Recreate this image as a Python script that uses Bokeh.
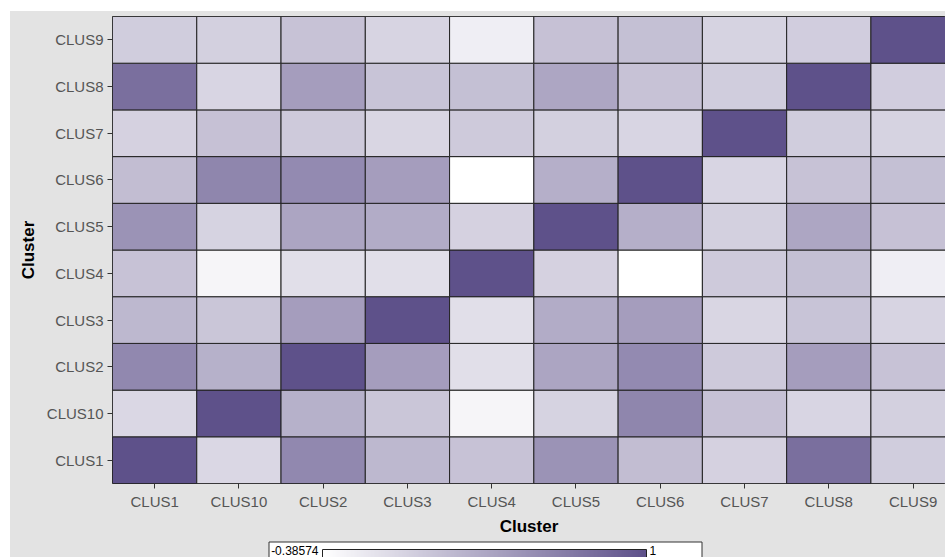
import numpy as np
from bokeh.plotting import figure
from bokeh.models import (ColumnDataSource, LinearColorMapper, ColorBar, FixedTicker,
                          Range1d, Label)
from bokeh.layouts import column
from bokeh.transform import transform
from bokeh.embed import file_html
from bokeh.resources import INLINE

# ---------------- data ----------------
clusters = ["CLUS1", "CLUS10", "CLUS2", "CLUS3", "CLUS4",
            "CLUS5", "CLUS6", "CLUS7", "CLUS8", "CLUS9"]

# correlation of each cluster (row) with the clusters above (columns, same order)
clus1 = [1.00, -0.07, 0.56, 0.18, 0.10, 0.48, 0.14, -0.02, 0.76, 0.02]
clus10 = [-0.07, 1.00, 0.24, 0.07, -0.30, -0.03, 0.58, 0.11, -0.05, -0.01]
clus2 = [0.56, 0.24, 1.00, 0.39, -0.13, 0.33, 0.54, 0.04, 0.39, 0.10]
clus3 = [0.18, 0.07, 0.39, 1.00, -0.13, 0.28, 0.39, -0.06, 0.09, -0.04]
clus4 = [0.10, -0.30, -0.13, -0.13, 1.00, -0.02, -0.38574, 0.04, 0.12, -0.25]
clus5 = [0.48, -0.03, 0.33, 0.28, -0.02, 1.00, 0.25, -0.01, 0.32, 0.11]
clus6 = [0.14, 0.58, 0.54, 0.39, -0.38574, 0.25, 1.00, -0.05, 0.10, 0.12]
clus7 = [-0.02, 0.11, 0.04, -0.06, 0.04, -0.01, -0.05, 1.00, 0.02, -0.03]
clus8 = [0.76, -0.05, 0.39, 0.09, 0.12, 0.32, 0.10, 0.02, 1.00, 0.01]
clus9 = [0.02, -0.01, 0.10, -0.04, -0.25, 0.11, 0.12, -0.03, 0.01, 1.00]

rows = [clus1, clus10, clus2, clus3, clus4, clus5, clus6, clus7, clus8, clus9]

# ---------------- build table ----------------
xs, ys, vals = [], [], []
for ri, row in enumerate(rows):
    for ci, v in enumerate(row):
        xs.append(ci + 0.5)
        ys.append(ri + 0.5)
        vals.append(v)
src = ColumnDataSource(dict(x=xs, y=ys, v=vals))

low = min(vals)
high = max(vals)

# white -> dark purple ramp
c0 = np.array([255, 255, 255])
c1 = np.array([94, 81, 138])
palette = ["#%02x%02x%02x" % tuple(np.round(c0 + (c1 - c0) * t).astype(int))
           for t in np.linspace(0, 1, 256)]
mapper = LinearColorMapper(palette=palette, low=low, high=high)

BG = "#e3e3e3"
FONT = "Liberation Sans"
W = 935          # figure width (page x 10 .. 945)
LEFT = 102       # frame starts at page x 112
COLW = 84.27     # pixel width of one column

p = figure(width=W, height=527,
           x_range=Range1d(0, (W - LEFT) / COLW), y_range=Range1d(0, len(clusters)),
           output_backend="svg", toolbar_location=None,
           min_border_left=LEFT, min_border_right=0,
           min_border_top=5, min_border_bottom=55)
p.rect(x="x", y="y", width=1, height=1, source=src,
       fill_color=transform("v", mapper), line_color="#222222", line_width=1)

ticks = [i + 0.5 for i in range(len(clusters))]
overrides = {t: c for t, c in zip(ticks, clusters)}
for ax in (p.xaxis[0], p.yaxis[0]):
    ax.ticker = FixedTicker(ticks=ticks)
    ax.major_label_overrides = overrides
    ax.major_label_text_font = FONT
    ax.major_label_text_font_size = "15px"
    ax.major_label_text_color = "#555555"
    ax.major_tick_in = 0
    ax.major_tick_out = 5
    ax.major_tick_line_color = "#333333"
    ax.minor_tick_line_color = None
    ax.axis_line_color = None
    ax.axis_label = "Cluster"
    ax.axis_label_text_font = FONT
    ax.axis_label_text_font_size = "17px"
    ax.axis_label_text_font_style = "bold"
    ax.axis_label_text_color = "#000000"
p.xaxis.major_label_standoff = 4
p.xaxis.axis_label_standoff = 4
p.yaxis.major_label_standoff = 4
p.yaxis.axis_label_standoff = 6

p.grid.visible = False
p.background_fill_color = "#ffffff"
p.border_fill_color = BG
p.outline_line_color = "#222222"

# ---------------- legend strip (1 data unit = 1 pixel) ----------------
LH = 19
lg = figure(width=W, height=LH, x_range=Range1d(0, W - LEFT), y_range=Range1d(0, LH),
            output_backend="svg", toolbar_location=None,
            x_axis_location=None, y_axis_location=None,
            min_border_left=LEFT, min_border_right=0,
            min_border_top=0, min_border_bottom=0)
lg.grid.visible = False
lg.background_fill_color = BG
lg.border_fill_color = BG
lg.outline_line_color = None

# white legend box (page x 268..701, top at page y 541)
lg.quad(left=[156.5], right=[589.5], top=[15.5], bottom=[-5],
        fill_color="#ffffff", line_color="#333333", line_width=1)

cb = ColorBar(color_mapper=mapper, orientation="horizontal", width=324, height=8,
              location=(210, 0), padding=0, margin=0,
              ticker=FixedTicker(ticks=[]), major_tick_line_color=None,
              minor_tick_line_color=None, label_standoff=0,
              bar_line_color="#222222", border_line_color=None,
              background_fill_alpha=0)
lg.add_layout(cb)

lg.add_layout(Label(x=206, y=7.5, text="%.5f" % low, text_align="right",
                    text_baseline="middle", text_font=FONT,
                    text_font_size="12px", text_color="#000000"))
lg.add_layout(Label(x=537, y=7.5, text="%g" % high, text_align="left",
                    text_baseline="middle", text_font=FONT,
                    text_font_size="12px", text_color="#000000"))

layout = column(p, lg, spacing=0, margin=(11, 0, 0, 10),
                styles={"background-color": BG})

open("out.html", "w").write(file_html(layout, INLINE))
